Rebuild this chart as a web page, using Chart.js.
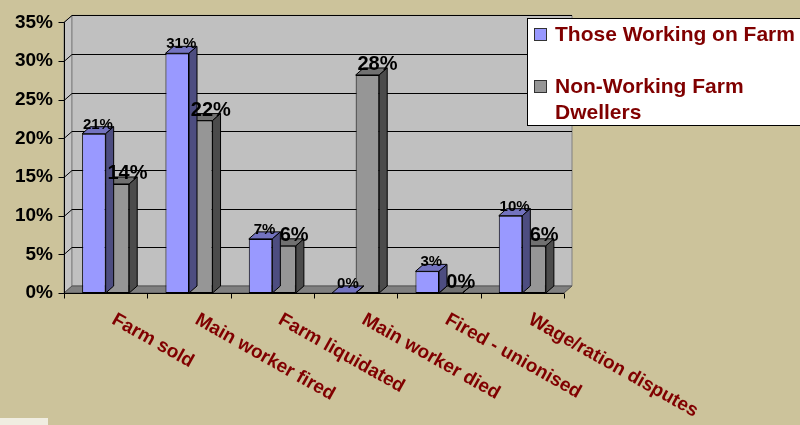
<!DOCTYPE html>
<html>
<head>
<meta charset="utf-8">
<script src="https://cdn.jsdelivr.net/npm/chart.js@4.4.1/dist/chart.umd.min.js"></script>
<style>
  html, body { margin: 0; padding: 0; background: #CCC39B; }
  #wrap { width: 800px; height: 425px; position: relative; }
</style>
</head>
<body>
<div id="wrap"><canvas id="myChart"></canvas></div>
<script>
const categories = ['Farm sold', 'Main worker fired', 'Farm liquidated', 'Main worker died', 'Fired - unionised', 'Wage/ration disputes'];
const workingOnFarm = [20.6, 31.0, 7.0, 0, 2.8, 10.0];
const nonWorkingDwellers = [14.1, 22.3, 6.1, 28.2, 0, 6.1];
const seriesNames = ['Those Working on Farm', 'Non-Working Farm Dwellers'];
const yTickValues = [0, 5, 10, 15, 20, 25, 30, 35];

const FONT = "'Liberation Sans', Arial, sans-serif";
const DX = 8, DY = 7; // depth of the 3d look
const faces = [
  { front: '#9999FF', top: '#7373BF', side: '#4D4D80' },
  { front: '#969696', top: '#717171', side: '#4B4B4B' }
];

function poly(ctx, pts, fill) {
  ctx.beginPath();
  ctx.moveTo(pts[0][0], pts[0][1]);
  for (let i = 1; i < pts.length; i++) ctx.lineTo(pts[i][0], pts[i][1]);
  ctx.closePath();
  ctx.fillStyle = fill;
  ctx.fill();
  ctx.stroke();
}

// walls, floor and gridlines behind the bars
const backdrop = {
  id: 'backdrop',
  beforeDraw(chart) {
    const ctx = chart.ctx, a = chart.chartArea, ys = chart.scales.y;
    ctx.save();
    ctx.fillStyle = '#CCC39B';
    ctx.fillRect(0, 0, chart.width, chart.height);
    ctx.lineWidth = 1;
    ctx.strokeStyle = '#808080';
    // left wall
    poly(ctx, [[a.left, a.top], [a.left + DX, a.top - DY], [a.left + DX, a.bottom - DY], [a.left, a.bottom]], '#C4C4C4');
    // back wall
    poly(ctx, [[a.left + DX, a.top - DY], [a.right + DX, a.top - DY], [a.right + DX, a.bottom - DY], [a.left + DX, a.bottom - DY]], '#C0C0C0');
    // floor
    ctx.strokeStyle = '#555';
    poly(ctx, [[a.left, a.bottom], [a.left + DX, a.bottom - DY], [a.right + DX, a.bottom - DY], [a.right, a.bottom]], '#808080');
    // gridlines
    ctx.strokeStyle = '#000';
    yTickValues.forEach(v => {
      if (v === 0) return;
      const y = Math.round(ys.getPixelForValue(v)) + 0.5;
      ctx.beginPath();
      ctx.moveTo(a.left, y);
      ctx.lineTo(a.left + DX, y - DY);
      ctx.lineTo(a.right + DX, y - DY);
      ctx.stroke();
    });
    ctx.restore();
  },
  afterDatasetDraw(chart, args) {
    const ctx = chart.ctx, f = faces[args.index];
    ctx.save();
    ctx.lineWidth = 1;
    ctx.strokeStyle = '#000';
    args.meta.data.forEach(bar => {
      const l = bar.x - bar.width / 2, r = bar.x + bar.width / 2;
      poly(ctx, [[l, bar.y], [l + DX, bar.y - DY], [r + DX, bar.y - DY], [r, bar.y]], f.top);
      poly(ctx, [[r, bar.y], [r + DX, bar.y - DY], [r + DX, bar.base - DY], [r, bar.base]], f.side);
    });
    ctx.restore();
  },
  afterDatasetsDraw(chart) {
    const ctx = chart.ctx;
    ctx.save();
    ctx.fillStyle = '#000';
    ctx.textAlign = 'center';
    ctx.textBaseline = 'alphabetic';
    chart.data.datasets.forEach((ds, di) => {
      const meta = chart.getDatasetMeta(di);
      ctx.font = di === 0 ? 'bold 15px ' + FONT : 'bold 20px ' + FONT;
      meta.data.forEach((bar, i) => {
        const off = di === 0 ? 4 : 10;
        ctx.fillText(Math.round(ds.data[i]) + '%', bar.x + off, bar.y - 5);
      });
    });
    ctx.restore();
  },
  afterDraw(chart) {
    const ctx = chart.ctx, a = chart.chartArea, ys = chart.scales.y, xs = chart.scales.x;
    ctx.save();
    ctx.strokeStyle = '#000';
    ctx.lineWidth = 1;
    // front axes
    const x0 = Math.round(a.left) + 0.5, y0 = Math.round(a.bottom) + 0.5;
    ctx.beginPath();
    ctx.moveTo(x0, a.top);
    ctx.lineTo(x0, y0);
    ctx.lineTo(a.right, y0);
    yTickValues.forEach(v => {
      const y = Math.round(ys.getPixelForValue(v)) + 0.5;
      ctx.moveTo(x0 - 6, y);
      ctx.lineTo(x0, y);
    });
    const step = (a.right - a.left) / categories.length;
    for (let i = 0; i <= categories.length; i++) {
      const x = Math.round(a.left + step * i) + 0.5;
      ctx.moveTo(x, y0);
      ctx.lineTo(x, y0 + 5);
    }
    ctx.stroke();

    // category labels, slanted down to the right
    ctx.fillStyle = '#800000';
    ctx.font = 'bold 19px ' + FONT;
    ctx.textAlign = 'left';
    ctx.textBaseline = 'alphabetic';
    categories.forEach((c, i) => {
      ctx.save();
      ctx.translate(xs.getPixelForValue(i) + 5, a.bottom + 30);
      ctx.rotate(29.5 * Math.PI / 180);
      ctx.fillText(c, 0, 0);
      ctx.restore();
    });

    // legend
    ctx.fillStyle = '#fff';
    ctx.fillRect(527.5, 18.5, 290, 107);
    ctx.strokeRect(527.5, 18.5, 290, 107);
    ctx.font = 'bold 21px ' + FONT;
    const rows = [[41], [93, 119]];
    chart.data.datasets.forEach((ds, di) => {
      const base = rows[di];
      ctx.fillStyle = ds.backgroundColor;
      ctx.strokeStyle = '#333';
      ctx.fillRect(534.5, base[0] - 12.5, 12, 12);
      ctx.strokeRect(534.5, base[0] - 12.5, 12, 12);
      // wrap the label into lines
      const words = ds.label.split(' ');
      const lines = [];
      let cur = '';
      words.forEach(w => {
        const t = cur ? cur + ' ' + w : w;
        if (ctx.measureText(t).width > 245 && cur) { lines.push(cur); cur = w; } else cur = t;
      });
      lines.push(cur);
      ctx.fillStyle = '#800000';
      lines.forEach((ln, k) => ctx.fillText(ln, 555, base[k]));
    });

    // faint white smudge bottom left
    ctx.fillStyle = 'rgba(255,255,255,0.7)';
    ctx.fillRect(0, 418, 48, 7);
    ctx.restore();
  }
};

var ctx = document.getElementById('myChart');
var myChart = new Chart(ctx, {
  type: 'bar',
  data: {
    labels: categories,
    datasets: [{
      label: seriesNames[0],
      data: workingOnFarm,
      backgroundColor: faces[0].front,
      borderColor: '#000',
      borderWidth: 1,
      borderSkipped: false
    }, {
      label: seriesNames[1],
      data: nonWorkingDwellers,
      backgroundColor: faces[1].front,
      borderColor: '#000',
      borderWidth: 1,
      borderSkipped: false
    }]
  },
  options: {
    responsive: true,
    maintainAspectRatio: false,
    animation: false,
    layout: { padding: { left: 0, top: 16, right: 236, bottom: 132 } },
    datasets: { bar: { categoryPercentage: 0.565, barPercentage: 1 } },
    plugins: {
      legend: { display: false },
      tooltip: { enabled: false }
    },
    scales: {
      x: { display: false },
      y: {
        min: 0,
        max: 35,
        afterFit: s => { s.width = 64; },
        grid: { display: false, drawTicks: false },
        border: { display: false },
        ticks: {
          stepSize: 5,
          padding: 11,
          color: '#000',
          font: { family: FONT, size: 19, weight: 'bold' },
          callback: v => v + '%'
        }
      }
    }
  },
  plugins: [backdrop]
});
</script>
</body>
</html>
